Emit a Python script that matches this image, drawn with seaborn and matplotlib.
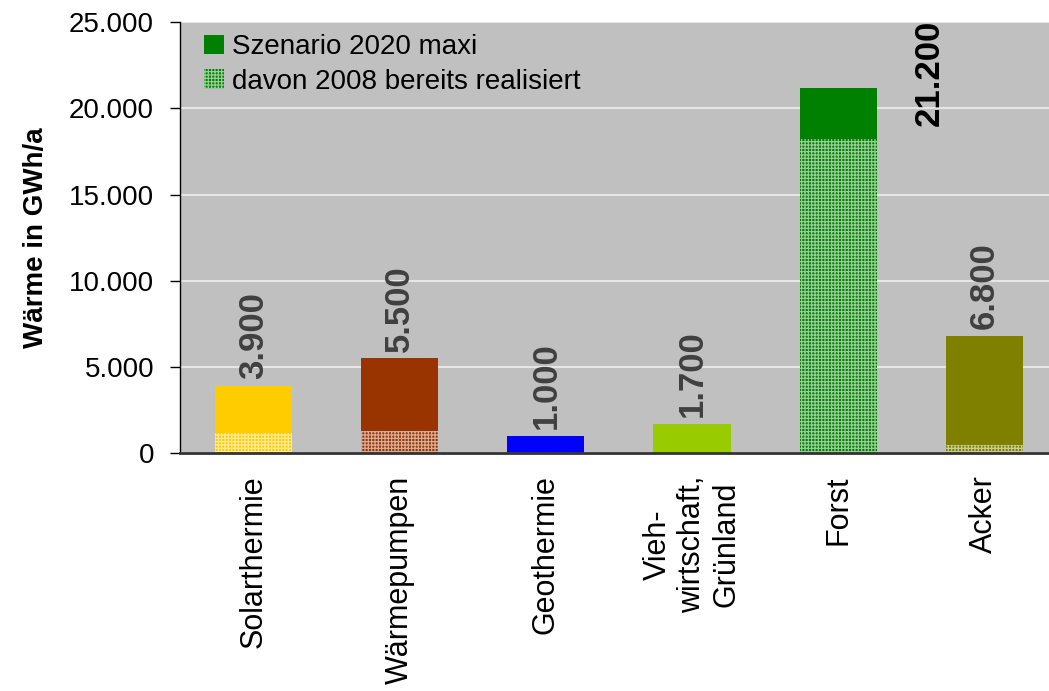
import matplotlib
matplotlib.use("Agg")
import matplotlib.pyplot as plt
from matplotlib.patches import Patch
import seaborn as sns
import numpy as np

# data (GWh/a)
categories = ["Solarthermie", "Wärmepumpen", "Geothermie",
              "Vieh-\nwirtschaft,\nGrünland", "Forst", "Acker"]
szenario_2020 = [3900, 5500, 1000, 1700, 21200, 6800]
realisiert_2008 = [1200, 1300, 50, 20, 18200, 500]
colors = ["#FFCC00", "#993300", "#0000FF", "#99CC00", "#008000", "#808000"]

sns.set_style("white")
plt.rcParams["font.family"] = ["Liberation Sans", "DejaVu Sans"]
plt.rcParams["hatch.linewidth"] = 0.9
plt.rcParams["text.color"] = "black"
plt.rcParams["axes.labelcolor"] = "black"
plt.rcParams["xtick.color"] = "black"
plt.rcParams["ytick.color"] = "black"

fig = plt.figure(figsize=(10.49, 6.91), dpi=100)
ax = fig.add_axes([0.172, 0.344, 0.836, 0.624])
ax.set_facecolor("#C0C0C0")

# full scenario bars
sns.barplot(x=categories, y=szenario_2020, hue=categories, palette=colors,
            legend=False, width=0.527, ax=ax, saturation=1)
# realised part, hatched
sns.barplot(x=categories, y=realisiert_2008, hue=categories, palette=colors,
            legend=False, width=0.527, ax=ax, saturation=1)
n = len(categories)
for i, p in enumerate(ax.patches):
    p.set_linewidth(0)
    if i >= n:
        p.set_hatch("+++++")
        p.set_edgecolor((1, 1, 1, 0.6))
    else:
        p.set_edgecolor("none")

ax.set_ylim(0, 25000)
ax.set_yticks(np.arange(0, 25001, 5000))
ax.set_yticklabels([f"{v:,.0f}".replace(",", ".") for v in np.arange(0, 25001, 5000)])
ax.yaxis.grid(True, color="#E6E6E6", linewidth=1.5)
ax.set_axisbelow(True)

# value labels
for i, v in enumerate(szenario_2020):
    txt = f"{v:,.0f}".replace(",", ".")
    if v > 20000:
        ax.text(i + 0.62, 19000, txt, rotation=90, ha="center", va="bottom",
                fontsize=25, fontweight="bold", color="black")
    else:
        ax.text(i, v + 400, txt, rotation=90, ha="center", va="bottom",
                fontsize=25, fontweight="bold", color="#404040")

ax.set_xlim(-0.5, n - 0.5)
ax.set_xticks(range(n))
ax.set_xticklabels(categories, rotation=90, fontsize=22, ha="center", va="top",
                   multialignment="center")
ax.set_xticks(np.arange(-0.5, n, 1), minor=True)
ax.tick_params(axis="x", which="major", length=0, pad=16)
ax.tick_params(axis="x", which="minor", length=11, width=1, color="black", direction="out")
ax.tick_params(axis="y", length=7, width=1, color="black", direction="out",
               labelsize=20, pad=12, left=True)

ax.set_ylabel("Wärme in GWh/a", fontsize=20, fontweight="bold", labelpad=14)

for s in ["top", "right"]:
    ax.spines[s].set_visible(False)
ax.spines["left"].set_color("black")
ax.spines["left"].set_linewidth(1)
ax.spines["bottom"].set_color("#333333")
ax.spines["bottom"].set_linewidth(2)

handles = [Patch(facecolor="#008000", edgecolor="none", linewidth=0),
           Patch(facecolor="#008000", edgecolor=(1, 1, 1, 0.6), hatch="+++++", linewidth=0)]
ax.legend(handles, ["Szenario 2020 maxi", "davon 2008 bereits realisiert"],
          loc="upper left", bbox_to_anchor=(0.008, 1.01), frameon=False,
          fontsize=20, handlelength=0.7, handleheight=0.7, handletextpad=0.3,
          labelspacing=0.3, borderaxespad=0.2)

fig.savefig("out.png", dpi=100)
